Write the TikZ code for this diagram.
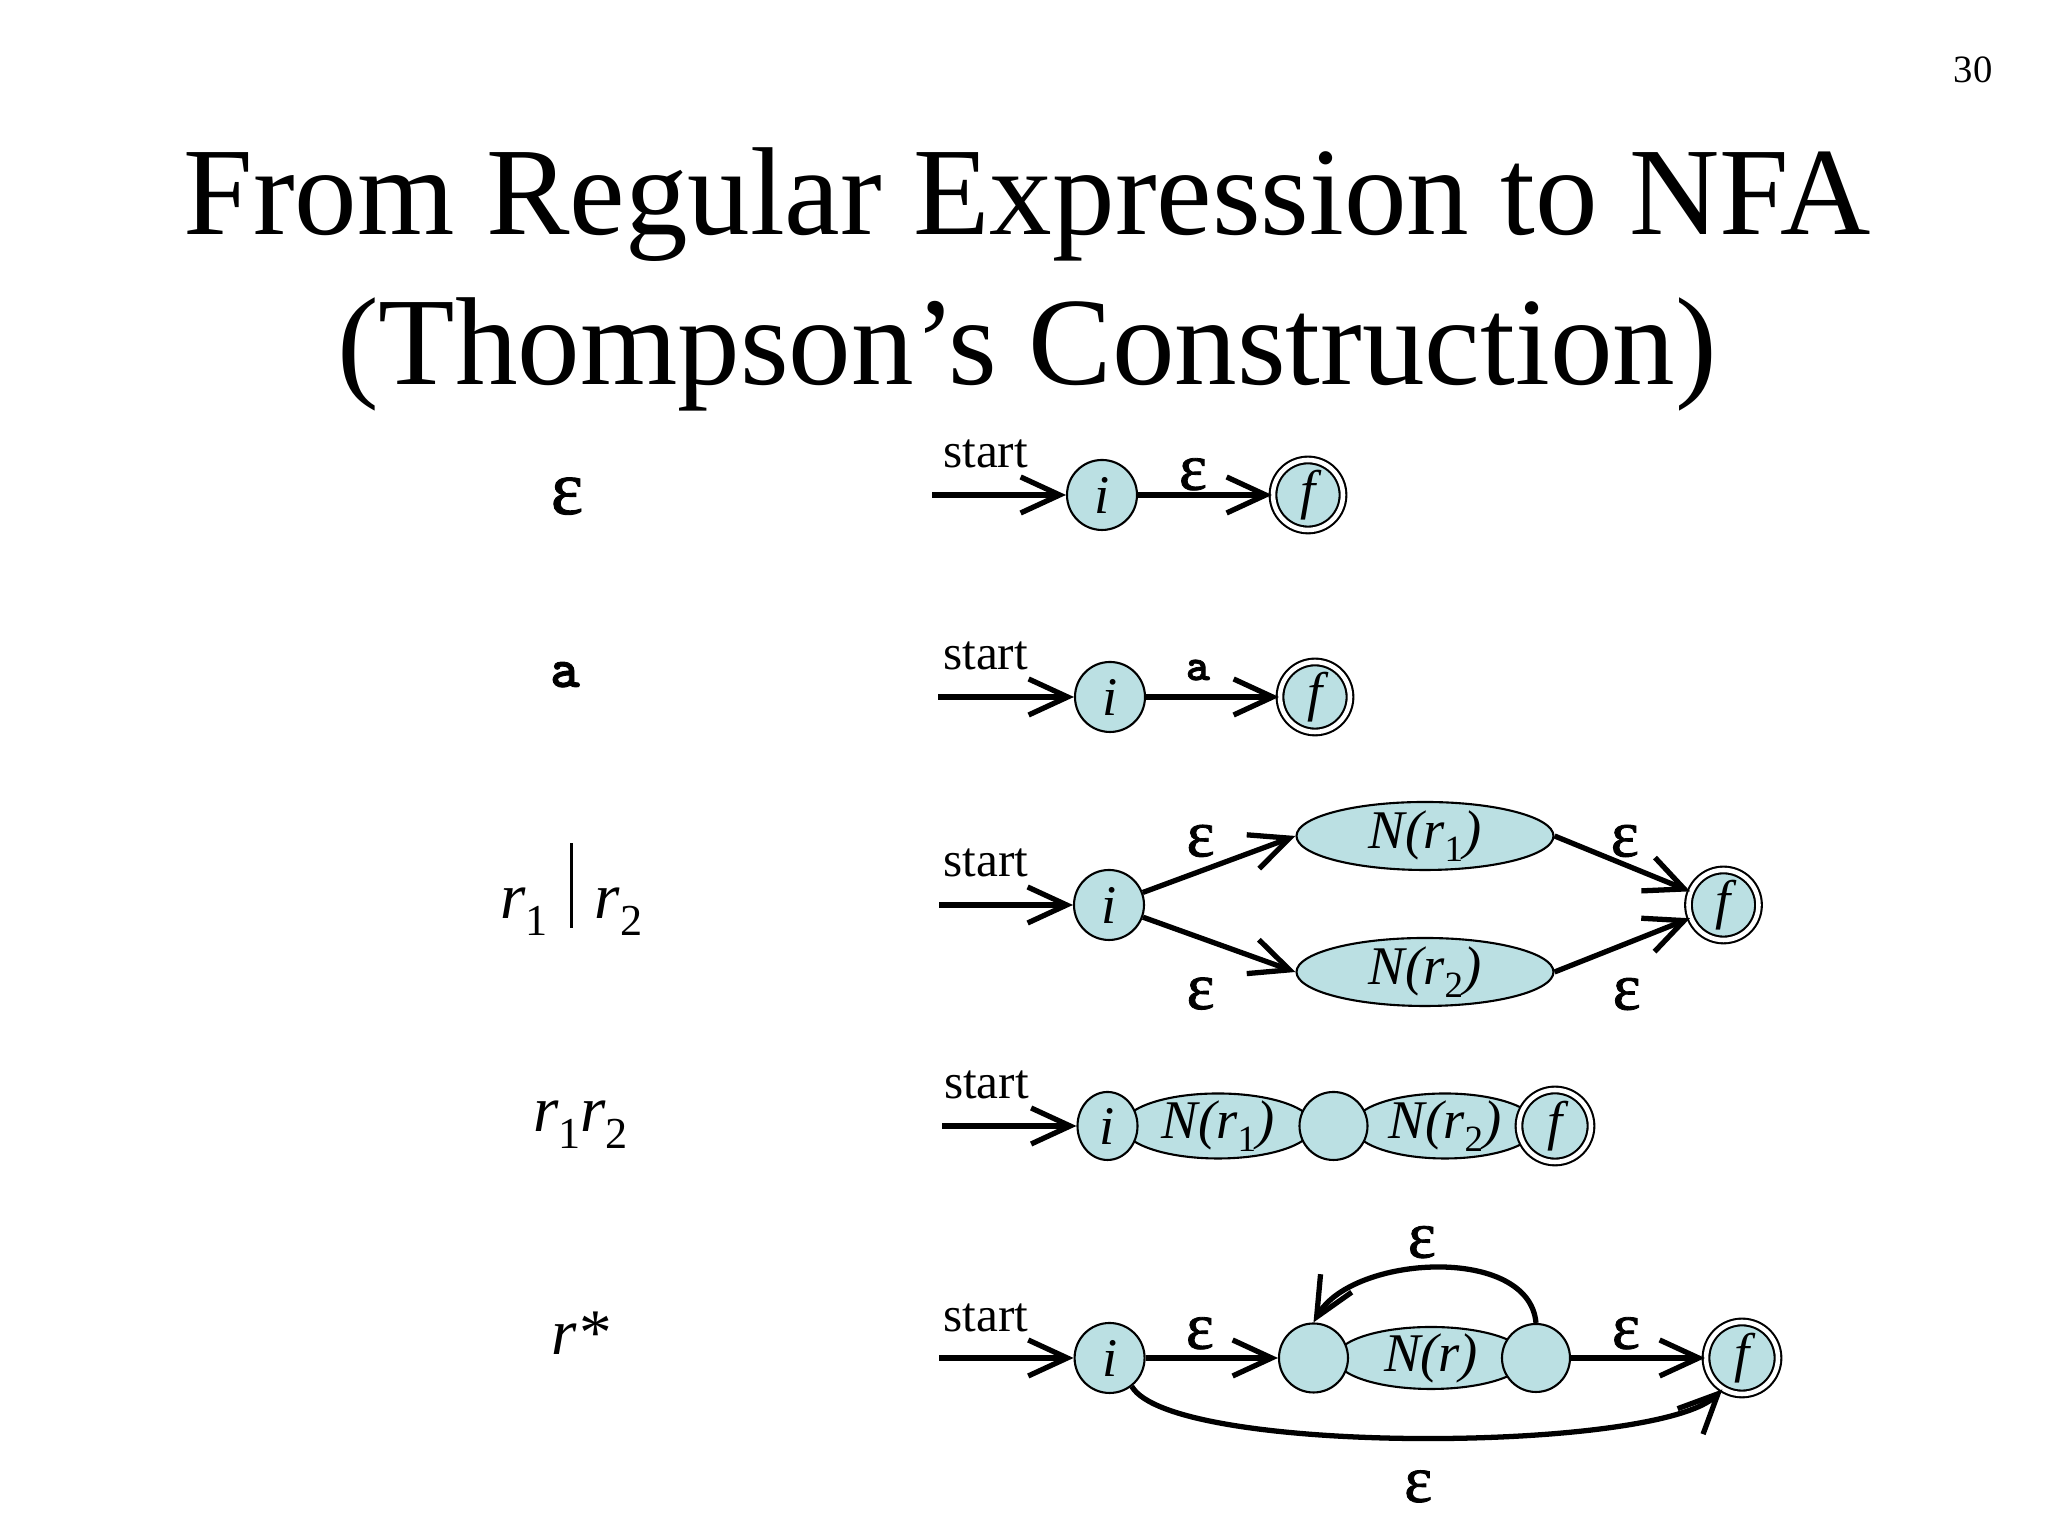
\documentclass[tikz,border=0pt]{standalone}
\usepackage{fontspec}
\setmainfont{Liberation Serif}
\newfontfamily\symfont{lmmonolt10-bold.otf}[FakeBold=1.5]
\usetikzlibrary{arrows.meta,positioning,shapes.geometric}

\newcommand\lowidx[1]{\raisebox{-0.25em}{\scalebox{0.68}{\upshape #1}}}

\begin{document}
\begin{tikzpicture}[
  >={Straight Barb[length=3.9mm,width=3.6mm]},
  state/.style={circle, draw, fill=nfafill, line width=0.6pt, inner sep=0pt, minimum size=0.70cm, font=\fontsize{15.5}{18}\selectfont\itshape},
  accept/.style={state, double, double distance=1.3pt},
  subnfa/.style={ellipse, draw, fill=nfafill, line width=0.6pt, inner sep=-2.5pt, font=\fontsize{15.5}{18}\selectfont\itshape},
  trans/.style={->, line width=1.5pt},
  eps/.style={font=\fontsize{19}{22}\selectfont\addfontfeatures{FakeBold=1.2}, inner sep=0pt},
  sym/.style={font=\fontsize{#1}{18}\selectfont\symfont},
  startlbl/.style={font=\fontsize{14}{16}\selectfont, inner sep=0pt},
  rexp/.style={font=\fontsize{18.5}{22}\selectfont\itshape, anchor=base}
]

\definecolor{nfafill}{RGB}{187,224,227}

\useasboundingbox (0,0) rectangle (20.48,15.36);

\node[font=\fontsize{35.6}{42}\selectfont, anchor=base] (title1) at (10.27,13.01) {From Regular Expression to NFA};
\node[font=\fontsize{35.6}{42}\selectfont, anchor=base] (title2) at (10.27,11.51) {(Thompson’s Construction)};
\node[font=\fontsize{11}{13}\selectfont, anchor=base] (pageno) at (19.73,14.53) {30};

% Left column: the expressions
\node[rexp, font=\fontsize{22}{26}\selectfont\addfontfeatures{FakeBold=1.2}] (re1) at (5.67,10.22) {ε};
\node[rexp, sym=16] (re2) at (5.65,8.49) {a};
\node[rexp] (re3) at (5.715,6.17) {r\lowidx{1}\hspace{0.22cm}\rule[-0.09cm]{0.8pt}{0.85cm}\hspace{0.22cm}r\lowidx{2}};
\node[rexp] (re4) at (5.805,4.04) {r\lowidx{1}r\lowidx{2}};
\node[rexp] (re5) at (5.80,1.81) {r*};

% Row 1: epsilon
\coordinate (s1) at (9.32,10.41);
\node[state] (i1) at (11.02,10.41) {i};
\node[accept] (f1) at (13.08,10.41) {f};
\draw[trans] (s1) -- node[startlbl, pos=0.40, above=0.24cm] {start} (i1);
\draw[trans] (i1) -- node[eps, pos=0.41, above=0.02cm] {ε} (f1);

% Row 2: single symbol
\coordinate (s2) at (9.38,8.39);
\node[state] (i2) at (11.10,8.39) {i};
\node[accept] (f2) at (13.15,8.39) {f};
\draw[trans] (s2) -- node[startlbl, pos=0.35, above=0.24cm] {start} (i2);
\draw[trans] (i2) -- node[pos=0.39, above=0.14cm, inner sep=0pt, sym=13] {a} (f2);

% Row 3: union
\coordinate (s3) at (9.39,6.31);
\node[state] (i3) at (11.09,6.31) {i};
\node[subnfa, minimum width=2.57cm, minimum height=0.68cm] (n31) at (14.25,7.00) {N(r\lowidx{1})};
\node[subnfa, minimum width=2.57cm, minimum height=0.68cm] (n32) at (14.25,5.64) {N(r\lowidx{2})};
\node[accept] (f3) at (17.235,6.31) {f};
\draw[trans] (s3) -- node[startlbl, pos=0.35, above=0.25cm] {start} (i3);
\draw[trans] (i3) -- node[eps, pos=0.378, above=0.115cm] {ε} (n31.west);
\draw[trans] (i3) -- node[eps, pos=0.378, below=0.37cm] {ε} (n32.west);
\draw[trans] (n31.east) -- node[eps, pos=0.518, above=0.05cm] {ε} (f3);
\draw[trans] (n32.east) -- node[eps, pos=0.533, below=0.32cm] {ε} (f3);

% Row 4: concatenation
\coordinate (s4) at (9.42,4.10);
\node[subnfa, minimum width=1.90cm, minimum height=0.65cm] (n41) at (12.18,4.10) {N(r\lowidx{1})};
\node[subnfa, minimum width=1.84cm, minimum height=0.65cm] (n42) at (14.45,4.10) {N(r\lowidx{2})};
\node[state, ellipse, minimum width=0.60cm, minimum height=0.68cm] (i4) at (11.075,4.10) {i};
\node[state, minimum size=0.68cm] (m4) at (13.335,4.10) {};
\node[accept, minimum size=0.72cm] (f4) at (15.55,4.10) {f};
\draw[trans] (s4) -- node[startlbl, pos=0.33, above=0.24cm] {start} (i4);

% Row 5: closure
\coordinate (s5) at (9.39,1.78);
\node[state] (i5) at (11.096,1.78) {i};
\node[subnfa, minimum width=1.90cm, minimum height=0.62cm] (n5) at (14.31,1.78) {N(r)};
\node[state, minimum size=0.69cm] (l5) at (13.135,1.78) {};
\node[state, minimum size=0.68cm] (r5) at (15.36,1.78) {};
\node[accept, minimum size=0.72cm] (f5) at (17.42,1.78) {f};
\draw[trans] (s5) -- node[startlbl, pos=0.35, above=0.23cm] {start} (i5);
\draw[trans] (i5) -- node[eps, pos=0.41, above=0.06cm] {ε} (l5);
\draw[trans] (r5) -- node[eps, pos=0.41, above=0.06cm] {ε} (f5);
\draw[trans] (r5.north) to[out=95, in=60, looseness=0.9] node[eps, pos=0.55, above=0.08cm] {ε} (l5.north);
\draw[trans] (i5.-52) .. controls +(-60:0.8) and +(225:0.9) .. node[eps, below=0.3cm] {ε} (f5.238);

\end{tikzpicture}
\end{document}
